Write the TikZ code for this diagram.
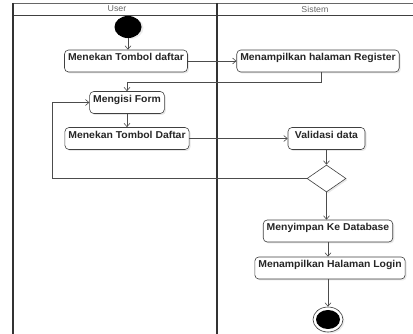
\documentclass[tikz,border=0pt]{standalone}
\usepackage{fontspec}
\setmainfont{Liberation Sans}[FakeStretch=1.04]
\usetikzlibrary{arrows.meta,shapes.geometric,shadows}

\begin{document}
\begin{tikzpicture}[x=1pt,y=-1pt,
  act/.style={draw=black!75,line width=0.6pt,rounded corners=4pt,fill=white,
    font=\bfseries\fontsize{10}{12}\selectfont,text=black!85,
    inner xsep=3.5pt,inner ysep=4pt,text height=7pt,text depth=7pt,
    drop shadow={shadow xshift=1.5pt,shadow yshift=-1.5pt,fill=black!18}},
  flow/.style={draw=black!70,line width=0.6pt,-{Straight Barb[length=3.5pt,width=6pt]}},
  lane/.style={draw=black!80,line width=1.3pt},
  head/.style={font=\fontsize{8.5}{9}\selectfont,text=black!60,inner sep=0pt}]
\useasboundingbox (0,0) rectangle (413,334);
% swimlanes
\draw[black!60,line width=0.5pt] (13,3) -- (413,3);
\draw[black!75,line width=0.8pt] (13,15) -- (413,15);
\draw[lane] (13,3) -- (13,334);
\draw[lane] (217,3) -- (217,334);
\node[head] (user) at (117,9) {User};
\node[head] (sys) at (315,9) {Sistem};
% activities
\node[ellipse,fill=black,minimum width=27pt,minimum height=22pt,inner sep=0pt,
  drop shadow={shadow xshift=2pt,shadow yshift=-1pt,fill=black!15}] (start) at (128,27) {};
\node[act] (tombol1) at (126,61) {Menekan Tombol daftar};
\node[act] (reg) at (318,61) {Menampilkan halaman Register};
\node[act] (form) at (127,102.5) {Mengisi Form};
\node[act] (tombol2) at (127,138.5) {Menekan Tombol Daftar};
\node[act,minimum width=77pt] (valid) at (326.5,138.5) {Validasi data};
\node[diamond,draw=black!75,line width=0.6pt,fill=white,minimum width=39pt,minimum height=27pt,
  inner sep=0pt,drop shadow={shadow xshift=1.5pt,shadow yshift=-1.5pt,fill=black!18}] (dec) at (326.5,178.5) {};
\node[act] (simpan) at (328,231) {Menyimpan Ke Database};
\node[act] (login) at (330,268) {Menampilkan Halaman Login};
\node[ellipse,draw=black!80,line width=0.6pt,fill=white,minimum width=30pt,minimum height=25pt,inner sep=0pt,
  drop shadow={shadow xshift=1.5pt,shadow yshift=-1.5pt,fill=black!15}] (stop) at (328,319.5) {};
\node[ellipse,fill=black,minimum width=24pt,minimum height=19pt,inner sep=0pt] (stopin) at (stop) {};
\coordinate (loop) at (52,178.5);
% flows
\draw[flow] (start) -- (start |- tombol1.north);
\draw[flow] (tombol1) -- (reg);
\draw[flow] ([xshift=3pt]reg.south) -- ++(0,10) -| (form.north);
\draw[flow] (form) -- (tombol2);
\draw[flow] (tombol2) -- (valid);
\draw[flow] (valid) -- (dec);
\draw[flow] (dec.west) -- (loop) |- (form.west);
\draw[flow] (dec.south) -- (dec.south |- simpan.north);
\draw[flow] (simpan.south) -- (simpan.south |- login.north);
\draw[flow] (stop |- login.south) -- (stop);
\end{tikzpicture}
\end{document}
